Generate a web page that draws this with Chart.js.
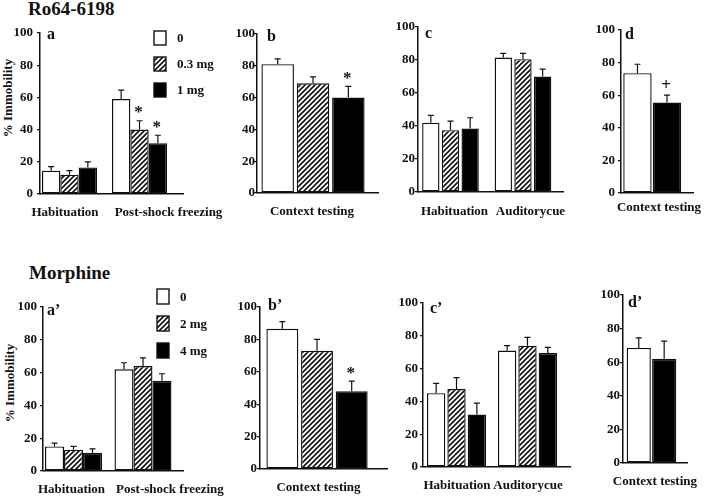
<!DOCTYPE html>
<html>
<head>
<meta charset="utf-8">
<title>% Immobility - Ro64-6198 and Morphine</title>
<script src="https://cdn.jsdelivr.net/npm/chart.js@4.4.1/dist/chart.umd.min.js"></script>
<style>
  html, body { margin: 0; padding: 0; background: #fff; }
  #fig { position: relative; width: 709px; height: 498px; overflow: hidden; }
  #fig canvas { position: absolute; left: 0; top: 0; }
  .lbl { position: absolute; font-family: "Liberation Serif", "Times New Roman", serif; font-weight: bold; color: #111; white-space: nowrap; }
  .title { font-size: 19px; line-height: 19px; }
  .ylab { font-size: 13px; line-height: 14px; height: 14px; width: 110px; text-align: center; transform: rotate(-90deg); }
</style>
</head>
<body>
<div id="fig">
  <div class="lbl title" style="left:28px; top:-1px;">Ro64-6198</div>
  <div class="lbl title" style="left:29px; top:263px;">Morphine</div>
  <div class="lbl ylab" style="left:-47px; top:91px;">% Immobility</div>
  <div class="lbl ylab" style="left:-45px; top:376px;">% Immobility</div>
</div>
<script>
// groups / labels
const roDoses = ['0', '0.3 mg', '1 mg'];
const moDoses = ['0', '2 mg', '4 mg'];
const roPair = ['0', '1 mg'];
const moPair = ['0', '4 mg'];
const fearPhases = ['Habituation', 'Post-shock freezing'];
const contextPhase = ['Context testing'];
const cuePhases = ['Habituation', 'Auditorycue'];
const yTicks = [0, 20, 40, 60, 80, 100];

// Ro64-6198 : mean % immobility and SEM, one array per dose
const roA_0 = [14.5, 59], roA_03 = [12, 40], roA_1 = [16.5, 31.5];
const roA_0se = [2.5, 5.5], roA_03se = [2.5, 5.5], roA_1se = [3.5, 5];
const roB = [81, 69, 60], roBse = [3.3, 4, 7];
const roC_0 = [42, 81.5], roC_03 = [37.5, 80.5], roC_1 = [38.5, 70];
const roC_0se = [4.5, 2.5], roC_03se = [5.5, 3.5], roC_1se = [6.5, 4.5];
const roD = [73.5, 55.5], roDse = [5.5, 4.5];

// Morphine
const moA_0 = [15, 62], moA_2 = [13, 64], moA_4 = [11, 55];
const moA_0se = [2, 4], moA_2se = [2, 5], moA_4se = [2.5, 4.3];
const moB = [86.5, 73, 48], moBse = [4.5, 7, 6.3];
const moC_0 = [45, 71], moC_2 = [47.5, 74], moC_4 = [32, 69.5];
const moC_0se = [6, 3], moC_2se = [7, 5], moC_4se = [7, 3.5];
const moD = [68.5, 62], moDse = [6, 10.5];

// significance marks
const roA_marks = [['', ''], ['', '*'], ['', '*']];
const roB_marks = ['', '', '*'];
const roD_marks = ['', '+'];
const moB_marks = ['', '', '*'];

const FONT = "'Liberation Serif', 'Times New Roman', serif";
const INK = '#111';
const AXW = 34, AXH = 34;

function hatch() {
  const s = 5;
  const c = document.createElement('canvas');
  c.width = c.height = s;
  const g = c.getContext('2d');
  g.fillStyle = '#fff';
  g.fillRect(0, 0, s, s);
  g.strokeStyle = INK;
  g.lineWidth = 1.6;
  g.beginPath();
  g.moveTo(-1, s + 1); g.lineTo(s + 1, -1);
  g.moveTo(-1, 1); g.lineTo(1, -1);
  g.moveTo(s - 1, s + 1); g.lineTo(s + 1, s - 1);
  g.stroke();
  return g.createPattern(c, 'repeat');
}
const FILLS = { white: '#fff', hatch: hatch(), black: '#000' };
const FILL3 = ['white', 'hatch', 'black'];
const FILL2 = ['white', 'black'];

function multi(doses, means, errs, fills, marks) {
  return means.map((m, k) => ({ label: doses[k], values: m, errs: errs[k], fill: fills[k], marks: marks ? marks[k] : [] }));
}
function single(doses, means, errs, fills, marks) {
  return means.map((m, k) => ({ label: doses[k], values: [m], errs: [errs[k]], fill: fills[k], marks: marks ? [marks[k]] : [] }));
}

const panels = [
  { tag: 'a', groups: fearPhases,
    series: multi(roDoses, [roA_0, roA_03, roA_1], [roA_0se, roA_03se, roA_1se], FILL3, roA_marks),
    box: [40, 183, 33, 194], xRange: [-0.421, 1.621], cat: 0.786, bar: 1, shift: [-4.5, 29],
    tagAt: [7, 6], tickPad: 4, labelPad: 11, legend: { dx: 114, dy: -2, step: 26, h: 14 } },
  { tag: 'b', groups: contextPhase,
    series: single(roDoses, roB, roBse, FILL3, roB_marks),
    box: [257, 378, 34, 193], xRange: [-0.463, 0.537], cat: 0.876, bar: 0.92, shift: [-1],
    tagAt: [10, 7], tickPad: -1, labelPad: 11 },
  { tag: 'c', groups: cuePhases,
    series: multi(roDoses, [roC_0, roC_03, roC_1], [roC_0se, roC_03se, roC_1se], FILL3),
    box: [418, 563, 27, 192], xRange: [-0.448, 1.552], cat: 0.814, bar: 0.88, shift: [4, 7.5],
    tagAt: [7, 11], tickPad: 0, labelPad: 12 },
  { tag: 'd', groups: contextPhase,
    series: single(roPair, roD, roDse, FILL2, roD_marks),
    box: [621, 707, 30, 193], xRange: [-0.430, 0.570], cat: 0.814, bar: 0.96, shift: [8],
    tagAt: [4, 9], tickPad: 3, labelPad: 7 },
  { tag: 'a\u2019', groups: fearPhases,
    series: multi(moDoses, [moA_0, moA_2, moA_4], [moA_0se, moA_2se, moA_4se], FILL3),
    box: [43, 183, 307, 471], xRange: [-0.439, 1.576], cat: 0.82, bar: 1, shift: [-2, 27],
    tagAt: [4, 8], tickPad: 3, labelPad: 11, legend: { dx: 114, dy: -18, step: 27, h: 15 } },
  { tag: 'b\u2019', groups: contextPhase,
    series: single(moDoses, moB, moBse, FILL3, moB_marks),
    box: [260, 387, 307, 469], xRange: [-0.449, 0.551], cat: 0.819, bar: 0.92, shift: [1.5],
    tagAt: [8, 3], tickPad: 0, labelPad: 11 },
  { tag: 'c\u2019', groups: cuePhases,
    series: multi(moDoses, [moC_0, moC_2, moC_4], [moC_0se, moC_2se, moC_4se], FILL3),
    box: [423, 570, 303, 467], xRange: [-0.472, 1.599], cat: 0.86, bar: 0.9, shift: [0.5, 0.5],
    tagAt: [7, 10], tickPad: 2, labelPad: 11 },
  { tag: 'd\u2019', groups: contextPhase,
    series: single(moPair, moD, moDse, FILL2),
    box: [623, 707, 295, 463], xRange: [-0.44, 0.56], cat: 0.786, bar: 0.95, shift: [4.5],
    tagAt: [5, 12], tickPad: 0, labelPad: 11 }
];

// error bars, significance marks, panel letter and legend
function decor(p) {
  return {
    id: 'decor',
    afterDatasetsDraw(chart) {
      const ctx = chart.ctx, y = chart.scales.y, area = chart.chartArea;
      ctx.save();
      ctx.strokeStyle = INK;
      ctx.fillStyle = INK;
      chart.data.datasets.forEach((ds, di) => {
        chart.getDatasetMeta(di).data.forEach((el, i) => {
          const top = y.getPixelForValue(ds.data[i].y + ds.errs[i]);
          ctx.lineWidth = 1.2;
          ctx.beginPath();
          ctx.moveTo(el.x, el.y);
          ctx.lineTo(el.x, top);
          ctx.moveTo(el.x - 3, top);
          ctx.lineTo(el.x + 3, top);
          ctx.stroke();
          const m = ds.marks[i];
          if (m) {
            ctx.font = 'bold 17px ' + FONT;
            ctx.textAlign = 'center';
            ctx.textBaseline = 'alphabetic';
            const t = ctx.measureText(m);
            const mid = top - 11;
            ctx.fillText(m, el.x - 1, mid + (t.actualBoundingBoxAscent - t.actualBoundingBoxDescent) / 2);
          }
        });
      });

      ctx.font = 'bold 16px ' + FONT;
      ctx.textAlign = 'left';
      ctx.textBaseline = 'alphabetic';
      ctx.fillText(p.tag, area.left + p.tagAt[0], area.top + p.tagAt[1]);

      if (p.legend) {
        const L = p.legend;
        chart.data.datasets.forEach((ds, k) => {
          const bx = area.left + L.dx, by = area.top + L.dy + k * L.step;
          ctx.fillStyle = ds.backgroundColor;
          ctx.fillRect(bx, by, 12, L.h);
          ctx.lineWidth = 1.4;
          ctx.strokeStyle = INK;
          ctx.strokeRect(bx, by, 12, L.h);
          ctx.fillStyle = INK;
          ctx.font = 'bold 13px ' + FONT;
          ctx.textBaseline = 'middle';
          ctx.fillText(ds.label, bx + 23, by + L.h / 2 + 1);
        });
      }
      ctx.restore();
    }
  };
}

function draw(p) {
  const cv = document.createElement('canvas');
  cv.width = 709;
  cv.height = 498;
  document.getElementById('fig').appendChild(cv);
  const [left, right, top, bottom] = p.box;
  const unit = (right - left) / (p.xRange[1] - p.xRange[0]);
  const tickFont = { family: FONT, weight: 'bold', size: 13 };

  new Chart(cv, {
    type: 'bar',
    data: {
      datasets: p.series.map(s => ({
        label: s.label,
        data: s.values.map((v, i) => ({ x: i, y: v })),
        errs: s.errs,
        marks: s.marks,
        backgroundColor: FILLS[s.fill],
        borderColor: INK,
        borderWidth: 1.4,
        borderSkipped: false,
        categoryPercentage: p.cat,
        barPercentage: p.bar
      }))
    },
    options: {
      responsive: false,
      animation: false,
      devicePixelRatio: 1,
      events: [],
      layout: { padding: { left: left - AXW, right: 709 - right, top: top, bottom: 498 - bottom - AXH } },
      plugins: { legend: { display: false }, tooltip: { enabled: false } },
      scales: {
        x: {
          type: 'linear',
          offset: false,
          min: p.xRange[0],
          max: p.xRange[1],
          afterFit: s => { s.height = AXH; },
          afterBuildTicks: s => { s.ticks = p.groups.map((g, i) => ({ value: i + p.shift[i] / unit })); },
          ticks: { callback: (v, i) => p.groups[i], color: INK, font: tickFont, padding: p.labelPad, maxRotation: 0, autoSkip: false },
          grid: { display: false, drawTicks: false, offset: false },
          border: { display: true, color: INK, width: 1.5 }
        },
        y: {
          min: 0,
          max: 100,
          afterFit: s => { s.width = AXW; },
          afterBuildTicks: s => { s.ticks = yTicks.map(v => ({ value: v })); },
          ticks: { color: INK, font: tickFont, padding: p.tickPad },
          grid: { drawOnChartArea: false, drawTicks: true, tickLength: 3, color: INK, lineWidth: 1.2 },
          border: { display: true, color: INK, width: 1.5 }
        }
      }
    },
    plugins: [decor(p)]
  });
}

panels.forEach(draw);
</script>
</body>
</html>
